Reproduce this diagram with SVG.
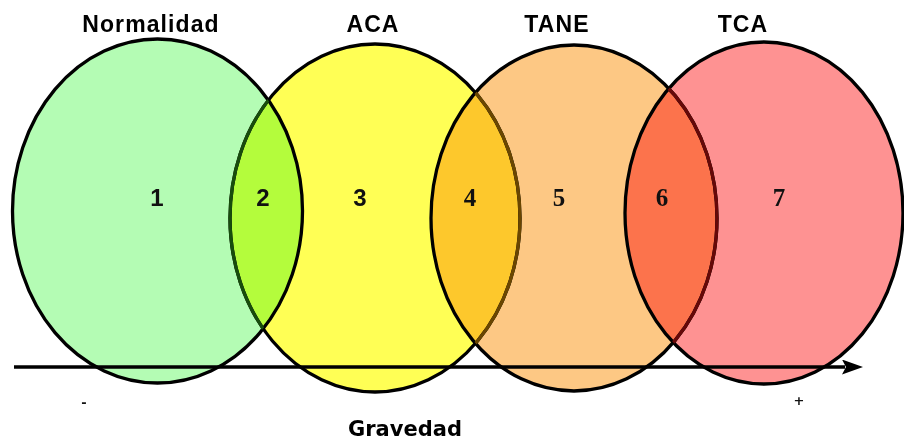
<svg xmlns="http://www.w3.org/2000/svg" width="904" height="440" viewBox="0 0 904 440">
<defs>
<style>
.fill{stroke:none;mix-blend-mode:multiply}
.edge{fill:none;stroke:#000;stroke-width:3.3}
.title{font-family:"Liberation Sans",Arial,sans-serif;font-weight:bold;font-size:23px;letter-spacing:1.1px;text-anchor:middle;fill:#000}
.grav{font-family:"DejaVu Sans","Liberation Sans",sans-serif;font-weight:bold;font-size:21px;text-anchor:middle;fill:#000}
.num{font-family:"Liberation Sans",Arial,sans-serif;font-weight:bold;font-size:24px;text-anchor:middle;fill:#111}
.nums{font-family:"Liberation Serif","Times New Roman",serif;font-weight:bold;font-size:25px;text-anchor:middle;fill:#111}
.axis{fill:none;stroke:#000;stroke-width:3.3}
.sign{font-family:"DejaVu Sans","Liberation Sans",sans-serif;font-weight:bold;font-size:13px;text-anchor:middle;fill:#111}
</style>
<clipPath id="clipGreen"><ellipse cx="157.5" cy="211" rx="145" ry="172"/></clipPath>
<clipPath id="clipOrange"><ellipse cx="574" cy="218" rx="143" ry="173"/></clipPath>
<clipPath id="clipRed"><ellipse cx="764" cy="213" rx="139" ry="171"/></clipPath>
<marker id="arrowHead" markerUnits="userSpaceOnUse" markerWidth="22" markerHeight="16" refX="3" refY="7.5" orient="auto">
<path d="M0,0 L21,7.5 L0,15 L4,7.5 z" fill="#000"/>
</marker>
</defs>
<rect width="904" height="440" fill="#fff"/>

<g id="node-aca">
<ellipse class="fill" cx="375" cy="218" rx="145" ry="174" fill="#ffff55"/>
<ellipse class="edge" cx="375" cy="218" rx="145" ry="174"/>
<text class="title" x="373" y="32">ACA</text>
</g>

<g id="node-normalidad">
<ellipse class="fill" cx="157.5" cy="211" rx="145" ry="172" fill="#b4fcb4"/>
<ellipse class="edge" cx="157.5" cy="211" rx="145" ry="172"/>
<ellipse cx="375" cy="218" rx="145" ry="174" fill="none" stroke="#174d0c" stroke-width="3.3" clip-path="url(#clipGreen)"/>
<text class="title" x="151" y="32">Normalidad</text>
</g>

<g id="node-tane">
<ellipse class="fill" cx="574" cy="218" rx="143" ry="173" fill="#fdc884"/>
<ellipse class="edge" cx="574" cy="218" rx="143" ry="173"/>
<ellipse cx="375" cy="218" rx="145" ry="174" fill="none" stroke="#6a4600" stroke-width="3.3" clip-path="url(#clipOrange)"/>
<text class="title" x="557" y="32">TANE</text>
</g>

<g id="node-tca">
<ellipse class="fill" cx="764" cy="213" rx="139" ry="171" fill="#fe9292"/>
<ellipse class="edge" cx="764" cy="213" rx="139" ry="171"/>
<ellipse cx="574" cy="218" rx="143" ry="173" fill="none" stroke="#660808" stroke-width="3.3" clip-path="url(#clipRed)"/>
<text class="title" x="743" y="32">TCA</text>
</g>

<g id="region-labels">
<text class="num" x="157" y="206">1</text>
<text class="num" x="263" y="206">2</text>
<text class="num" x="360" y="206">3</text>
<text class="nums" x="470" y="206">4</text>
<text class="nums" x="559" y="206">5</text>
<text class="nums" x="662" y="206">6</text>
<text class="nums" x="779" y="206">7</text>
</g>

<g id="connectors">
<line class="axis" x1="14" y1="367" x2="845" y2="367" marker-end="url(#arrowHead)"/>
</g>

<g id="axis-labels">
<text class="sign" x="84" y="407">-</text>
<text class="sign" x="799" y="405">+</text>
<text class="grav" x="405" y="436">Gravedad</text>
</g>
</svg>
